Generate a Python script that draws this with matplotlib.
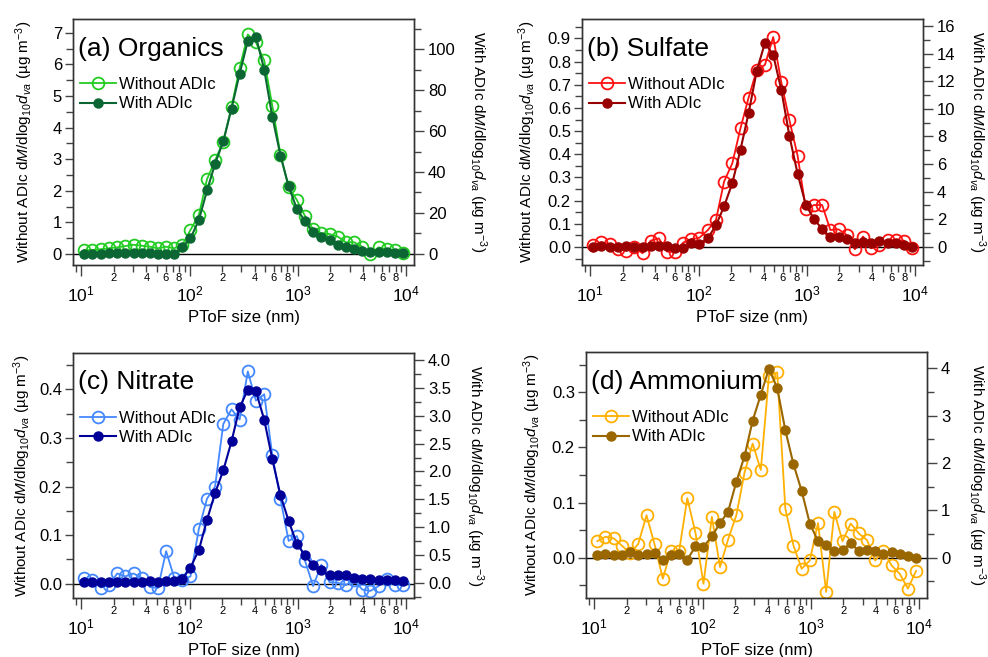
# PToF size distributions, without / with ADIc

import matplotlib.pyplot as plt
import matplotlib.ticker as mticker
import numpy as np

plt.rcParams['font.family'] = ['Liberation Sans', 'DejaVu Sans']
plt.rcParams['mathtext.fontset'] = 'custom'
plt.rcParams['mathtext.rm'] = 'Liberation Sans'
plt.rcParams['mathtext.it'] = 'Liberation Sans:italic'
plt.rcParams['mathtext.bf'] = 'Liberation Sans:bold'

# size bins (nm)
size_nm = [10.7, 12.7, 15.2, 18.0, 21.5, 25.5, 30.4, 36.1, 43.0, 51.1,
           60.8, 72.3, 86.1, 102, 122, 145, 172, 205, 244, 290,
           345, 410, 489, 581, 691, 822, 978, 1164, 1384, 1647,
           1959, 2330, 2773, 3299, 3924, 4668, 5553, 6606, 7859, 9350]

org_without = [0.13, 0.12, 0.15, 0.18, 0.21, 0.25, 0.29, 0.26, 0.23, 0.18,
               0.23, 0.18, 0.29, 0.76, 1.24, 2.37, 2.96, 3.56, 4.65, 5.89,
               6.95, 6.70, 6.13, 4.69, 3.14, 2.11, 1.71, 1.20, 0.78, 0.66,
               0.63, 0.55, 0.37, 0.37, 0.23, 0.00, 0.21, 0.15, 0.13, 0.02]
org_with = [0.2, 0.2, 0.2, 0.3, 0.3, 0.4, 0.4, 0.3, 0.3, 0.2,
            0.2, 0.0, 3.6, 7.6, 16.6, 31, 44, 55, 71, 88,
            104, 106, 90, 67, 48, 33, 22, 16, 10.6, 8.1,
            6.8, 4.4, 3.3, 2.3, 1.6, 1.1, 1.1, 0.8, 0.6, 0.3]

sul_without = [0.009, 0.020, 0.012, -0.010, -0.016, 0.000, -0.027, 0.027, 0.037, -0.020,
               -0.023, 0.019, 0.033, 0.040, 0.073, 0.117, 0.282, 0.361, 0.513, 0.645,
               0.765, 0.786, 0.906, 0.710, 0.546, 0.393, 0.163, 0.181, 0.181, 0.073,
               0.076, 0.052, -0.010, 0.045, -0.006, 0.009, 0.030, 0.030, 0.027, -0.006]
sul_with = [0.0, 0.05, 0.0, 0.0, 0.1, 0.0, 0.0, 0.1, 0.05, 0.05,
            -0.1, -0.1, 0.27, 0.2, 0.63, 1.57, 2.93, 4.62, 7.05, 9.7,
            12.76, 14.77, 13.9, 11.36, 8.0, 5.28, 3.05, 2.0, 1.3, 0.7,
            0.7, 0.58, 0.31, 0.34, 0.31, 0.46, 0.27, 0.27, 0.15, 0.02]

nit_without = [0.012, 0.007, -0.008, -0.003, 0.021, 0.015, 0.021, 0.012, -0.007, -0.009,
               0.067, 0.012, 0.007, 0.015, 0.113, 0.175, 0.200, 0.329, 0.359, 0.338,
               0.437, 0.377, 0.390, 0.264, 0.174, 0.088, 0.098, 0.047, -0.005, 0.039,
               0.003, 0.002, -0.003, 0.008, -0.012, -0.015, -0.005, 0.010, -0.003, -0.003]
nit_with = [0.01, 0.01, 0.01, 0.02, 0.02, 0.02, 0.02, 0.02, 0.03, 0.02,
            0.03, 0.03, 0.07, 0.27, 0.59, 1.13, 1.61, 2.02, 2.54, 3.15,
            3.47, 3.44, 2.93, 2.22, 1.57, 1.11, 0.70, 0.49, 0.31, 0.22,
            0.13, 0.14, 0.14, 0.09, 0.07, 0.06, 0.05, 0.05, 0.04, 0.03]

amm_without = [0.030, 0.038, 0.035, 0.022, 0.008, 0.025, 0.077, 0.024, -0.038, 0.013,
               0.012, 0.108, 0.045, -0.047, 0.074, -0.017, 0.033, 0.077, 0.154, 0.207,
               0.159, 0.330, 0.336, 0.089, 0.022, -0.020, -0.005, 0.063, -0.062, 0.083,
               0.030, 0.062, 0.044, 0.032, -0.005, 0.013, -0.014, -0.029, -0.056, -0.024]
amm_with = [0.05, 0.07, 0.05, 0.06, 0.12, 0.06, 0.08, 0.10, -0.04, 0.05,
            0.08, -0.04, 0.24, 0.23, 0.45, 0.73, 0.97, 1.60, 2.14, 2.89,
            3.44, 3.99, 3.58, 2.69, 1.97, 1.41, 0.72, 0.35, 0.26, 0.14,
            0.17, 0.30, 0.14, 0.17, 0.14, 0.07, 0.12, 0.08, 0.04, 0.00]

left_label = r'Without ADIc d$\it{M}$/dlog$_{10}$$\it{d}_{va}$ (µg m$^{-3}$)'
right_label = r'With ADIc d$\it{M}$/dlog$_{10}$$\it{d}_{va}$ (µg m$^{-3}$)'


def minor_fmt(x, pos):
    m = int(round(x / 10 ** np.floor(np.log10(x))))
    return str(m) if m in (2, 4, 6, 8) else ''


def panel(rect, title, without, with_, c1, c2, ylim1, ylim2, step1, step2, fmt1, fmt2,
          lpos, rpos):
    ax = fig.add_axes(rect)
    ax2 = ax.twinx()
    ax.set_xscale('log')
    ax.set_xlim(8.4, 11800)
    ax.set_ylim(*ylim1)
    ax2.set_ylim(*ylim2)
    ax.axhline(0, color='k', lw=1, zorder=1)

    l1, = ax.plot(size_nm, without, '-o', color=c1, lw=1.3, ms=8.5, mfc='none', mew=1.3,
                  label='Without ADIc')
    l2, = ax2.plot(size_nm, with_, '-o', color=c2, lw=1.5, ms=6.5, label='With ADIc')

    ax.xaxis.set_major_locator(mticker.LogLocator(base=10, numticks=10))
    ax.xaxis.set_minor_locator(mticker.LogLocator(base=10, subs=np.arange(2, 10), numticks=20))
    ax.xaxis.set_minor_formatter(mticker.FuncFormatter(minor_fmt))
    ax.yaxis.set_major_locator(mticker.MultipleLocator(step1))
    ax.yaxis.set_minor_locator(mticker.MultipleLocator(step1 / 2))
    ax.yaxis.set_major_formatter(mticker.FormatStrFormatter(fmt1))
    ax2.yaxis.set_major_locator(mticker.MultipleLocator(step2))
    ax2.yaxis.set_minor_locator(mticker.MultipleLocator(step2 / 2))
    ax2.yaxis.set_major_formatter(mticker.FormatStrFormatter(fmt2))

    ax.tick_params(axis='both', which='major', direction='out', length=6, width=1,
                   color='#444444', labelsize=12, pad=2)
    ax.tick_params(axis='both', which='minor', direction='out', length=5, width=1,
                   color='#444444', pad=2)
    ax.tick_params(axis='x', which='minor', labelsize=8, pad=1)
    ax.tick_params(axis='x', which='major', length=8, pad=6, labelsize=12.5)
    ax2.tick_params(axis='y', which='major', direction='out', length=7, width=1,
                    color='#444444', labelsize=12, pad=3)
    ax2.tick_params(axis='y', which='minor', direction='out', length=5, width=1,
                    color='#444444')
    for a in (ax, ax2):
        for s in a.spines.values():
            s.set_color('#333333')
            s.set_linewidth(1)

    ax.set_xlabel('PToF size (nm)', fontsize=12, labelpad=4)
    ax.set_ylabel(left_label, fontsize=11, va='center')
    ax.yaxis.set_label_coords(lpos, 0.5)
    ax2.set_ylabel(right_label, fontsize=11, rotation=270, va='center')
    ax2.yaxis.set_label_coords(rpos, 0.5)

    ax.text(0.015, 0.88, title, transform=ax.transAxes, fontsize=19, va='center', ha='left')
    ax2.legend([l1, l2], ['Without ADIc', 'With ADIc'], loc='upper left',
               bbox_to_anchor=(0.0, 0.79), frameon=False, fontsize=12,
               handlelength=2.2, handletextpad=0.15, labelspacing=0.25, borderpad=0.2,
               borderaxespad=0.2)
    return ax


fig = plt.figure(figsize=(9.88, 6.57), dpi=100)
W, H = 988.0, 657.0

panel([73 / W, 1 - 265 / H, 341 / W, 246 / H], '(a) Organics', org_without, org_with,
      '#22cc22', '#0b6633', (-0.35, 7.44), (-5.4, 114.7), 1, 20, '%d', '%d',
      -49 / 341, 1 + 64 / 341)
panel([582 / W, 1 - 265 / H, 341 / W, 246 / H], '(b) Sulfate', sul_without, sul_with,
      '#ff1111', '#990000', (-0.078, 0.984), (-1.31, 16.5), 0.1, 2, '%.1f', '%d',
      -55 / 341, 1 + 54 / 341)
panel([73 / W, 1 - 598 / H, 341 / W, 245 / H], '(c) Nitrate', nit_without, nit_with,
      '#4488ff', '#000099', (-0.0295, 0.475), (-0.276, 4.13), 0.1, 0.5, '%.1f', '%.1f',
      -51 / 341, 1 + 61 / 341)
panel([586 / W, 1 - 598 / H, 341 / W, 246 / H], '(d) Ammonium', amm_without, amm_with,
      '#ffb000', '#996600', (-0.073, 0.373), (-0.85, 4.34), 0.1, 1, '%.1f', '%d',
      -54 / 341, 1 + 50 / 341)

fig.savefig('out.png', dpi=100)
